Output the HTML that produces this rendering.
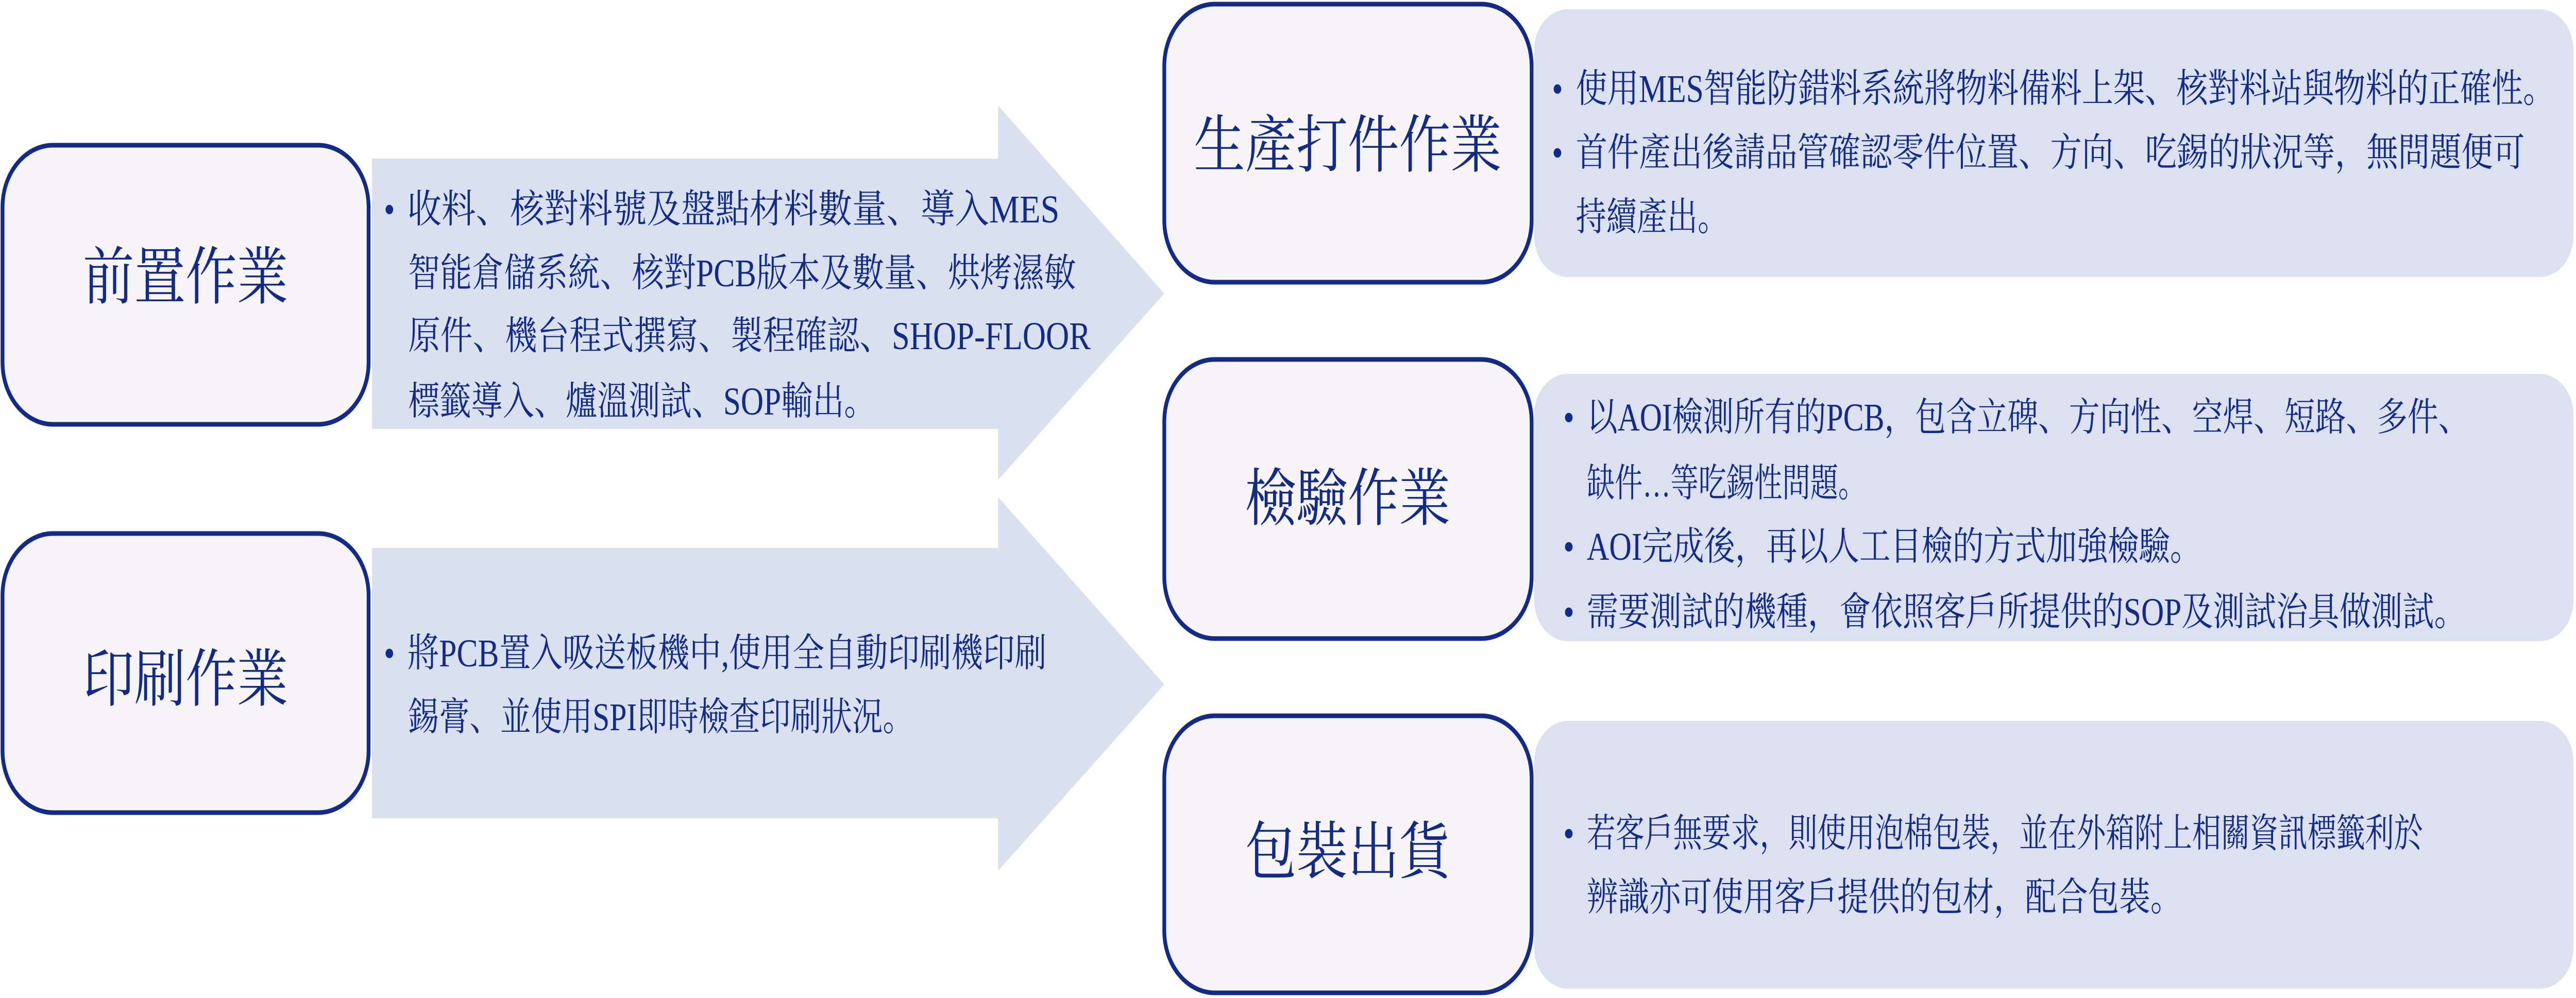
<!DOCTYPE html>
<html><head><meta charset="utf-8"><style>
html,body{margin:0;padding:0;background:#fff;width:100%;height:100%;overflow:hidden;}
svg{display:block;width:100vw;height:100vh;}
text{font-family:"Liberation Serif","Noto Serif CJK SC","Noto Serif CJK TC",serif;fill:#122a8a;}
.t{font-size:76px;}
.h{font-size:122px;}
</style></head><body>
<svg viewBox="0 0 6122 1938" preserveAspectRatio="none" xmlns="http://www.w3.org/2000/svg">
<polygon points="884,308 2372,308 2372,205 2767,570 2372,932 2372,833 884,833" fill="#dae1ee"/>
<polygon points="884,1064 2372,1064 2372,965 2767,1329 2372,1691 2372,1589 884,1589" fill="#dae1ee"/>
<rect x="6" y="282" width="870" height="542" rx="120" ry="120" fill="#f6f4f6" stroke="#122a8a" stroke-width="9"/>
<rect x="6" y="1036" width="870" height="542" rx="120" ry="120" fill="#f6f4f6" stroke="#122a8a" stroke-width="9"/>
<rect x="3646" y="18" width="2470" height="520" rx="80" ry="80" fill="#dbe1ee"/>
<rect x="3646" y="726" width="2470" height="519" rx="80" ry="80" fill="#dbe1ee"/>
<rect x="3646" y="1400" width="2470" height="520" rx="80" ry="80" fill="#dbe1ee"/>
<rect x="2767" y="8" width="873" height="540" rx="120" ry="120" fill="#f6f4f6" stroke="#122a8a" stroke-width="9"/>
<rect x="2767" y="698" width="873" height="542" rx="120" ry="120" fill="#f6f4f6" stroke="#122a8a" stroke-width="9"/>
<rect x="2767" y="1390" width="873" height="538" rx="120" ry="120" fill="#f6f4f6" stroke="#122a8a" stroke-width="9"/>
<text class="h" x="441" y="540" text-anchor="middle" dominant-baseline="central">前置作業</text>
<text class="h" x="441" y="1321" text-anchor="middle" dominant-baseline="central">印刷作業</text>
<text class="h" x="3203" y="284" text-anchor="middle" dominant-baseline="central">生產打件作業</text>
<text class="h" x="3203" y="970" text-anchor="middle" dominant-baseline="central">檢驗作業</text>
<text class="h" x="3203" y="1656" text-anchor="middle" dominant-baseline="central">包裝出貨</text>
<text class="t" x="912" y="432">•</text>
<text class="t" x="968" y="432" textLength="1550" lengthAdjust="spacingAndGlyphs">收料、核對料號及盤點材料數量、導入MES</text>
<text class="t" x="970" y="556" textLength="1587" lengthAdjust="spacingAndGlyphs">智能倉儲系統、核對PCB版本及數量、烘烤濕敏</text>
<text class="t" x="970" y="678" textLength="1622" lengthAdjust="spacingAndGlyphs">原件、機台程式撰寫、製程確認、SHOP-FLOOR</text>
<text class="t" x="970" y="805" textLength="1111" lengthAdjust="spacingAndGlyphs">標籤導入、爐溫測試、SOP輸出。</text>
<text class="t" x="912" y="1294">•</text>
<text class="t" x="968" y="1294" textLength="1519" lengthAdjust="spacingAndGlyphs">將PCB置入吸送板機中,使用全自動印刷機印刷</text>
<text class="t" x="970" y="1418" textLength="1201" lengthAdjust="spacingAndGlyphs">錫膏、並使用SPI即時檢查印刷狀況。</text>
<text class="t" x="3688" y="198">•</text>
<text class="t" x="3745" y="198" textLength="2326" lengthAdjust="spacingAndGlyphs">使用MES智能防錯料系統將物料備料上架、核對料站與物料的正確性。</text>
<text class="t" x="3688" y="322">•</text>
<text class="t" x="3745" y="322" textLength="2255" lengthAdjust="spacingAndGlyphs">首件產出後請品管確認零件位置、方向、吃錫的狀況等，無問題便可</text>
<text class="t" x="3745" y="447" textLength="362" lengthAdjust="spacingAndGlyphs">持續產出。</text>
<text class="t" x="3715" y="836">•</text>
<text class="t" x="3771" y="836" textLength="2097" lengthAdjust="spacingAndGlyphs">以AOI檢測所有的PCB，包含立碑、方向性、空焊、短路、多件、</text>
<text class="t" x="3771" y="964" textLength="664" lengthAdjust="spacingAndGlyphs">缺件…等吃錫性問題。</text>
<text class="t" x="3715" y="1087">•</text>
<text class="t" x="3771" y="1087" textLength="1460" lengthAdjust="spacingAndGlyphs">AOI完成後，再以人工目檢的方式加強檢驗。</text>
<text class="t" x="3715" y="1214">•</text>
<text class="t" x="3771" y="1214" textLength="2089" lengthAdjust="spacingAndGlyphs">需要測試的機種，會依照客戶所提供的SOP及測試治具做測試。</text>
<text class="t" x="3715" y="1644">•</text>
<text class="t" x="3771" y="1644" textLength="1987" lengthAdjust="spacingAndGlyphs">若客戶無要求，則使用泡棉包裝，並在外箱附上相關資訊標籤利於</text>
<text class="t" x="3771" y="1768" textLength="1414" lengthAdjust="spacingAndGlyphs">辨識亦可使用客戶提供的包材，配合包裝。</text>
</svg>
</body></html>
